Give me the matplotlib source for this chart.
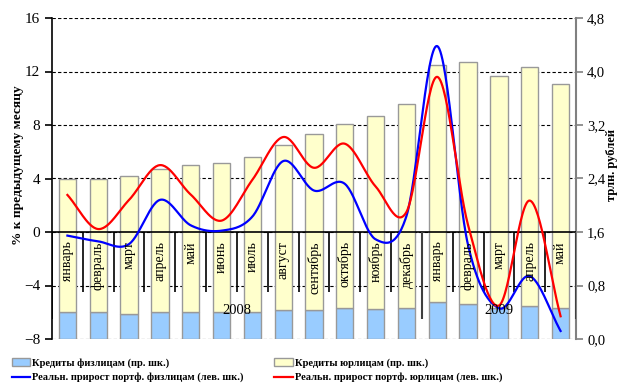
import numpy as np
import matplotlib.pyplot as plt
from matplotlib.patches import Patch
from matplotlib.lines import Line2D

plt.rcParams['font.family'] = ['Liberation Serif', 'DejaVu Serif']

months = ['январь', 'февраль', 'март', 'апрель', 'май', 'июнь', 'июль', 'август',
          'сентябрь', 'октябрь', 'ноябрь', 'декабрь',
          'январь', 'февраль', 'март', 'апрель', 'май']
years = ['2008', '2009']

# трлн. рублей (right axis)
loans_ind = [0.40, 0.40, 0.38, 0.40, 0.40, 0.40, 0.41, 0.43, 0.44, 0.46, 0.45, 0.47,
             0.55, 0.53, 0.47, 0.49, 0.46]
loans_total = [2.39, 2.39, 2.43, 2.54, 2.60, 2.63, 2.72, 2.90, 3.06, 3.21, 3.33, 3.51,
               4.10, 4.14, 3.93, 4.06, 3.82]
loans_corp = [t - i for t, i in zip(loans_total, loans_ind)]

# % к предыдущему месяцу (left axis)
growth_ind = [-0.27, -0.7, -0.9, 2.4, 0.5, 0.1, 1.15, 5.3, 3.1, 3.6, -0.55, 1.2,
              13.9, -1.0, -5.7, -3.3, -7.4]
growth_corp = [2.77, 0.22, 2.4, 5.0, 2.8, 0.85, 3.9, 7.1, 4.8, 6.6, 3.4, 1.5,
               11.6, 0.5, -5.5, 2.35, -6.3]


def smooth(y, n=30):
    # Catmull-Rom, like Excel's smoothed line
    y = np.asarray(y, float)
    p = np.concatenate([[2 * y[0] - y[1]], y, [2 * y[-1] - y[-2]]])
    xs, ys = [], []
    t = np.linspace(0, 1, n, endpoint=False)
    for i in range(1, len(p) - 2):
        p0, p1, p2, p3 = p[i - 1], p[i], p[i + 1], p[i + 2]
        seg = 0.5 * ((2 * p1) + (-p0 + p2) * t + (2 * p0 - 5 * p1 + 4 * p2 - p3) * t ** 2
                     + (-p0 + 3 * p1 - 3 * p2 + p3) * t ** 3)
        xs.extend(i - 1 + t)
        ys.extend(seg)
    xs.append(len(y) - 1)
    ys.append(y[-1])
    return np.array(xs), np.array(ys)


fig = plt.figure(figsize=(6.17, 3.87), dpi=100)
axb = fig.add_axes([52 / 617, 1 - 339 / 387, 524 / 617, 321 / 387])
axl = axb.twinx()
x = np.arange(len(months))

blue_fill = '#99CCFF'
yellow_fill = '#FFFFCC'
edge = '#999999'

# bars, right scale
axb.set_xlim(-0.5, len(months) - 0.5)
axb.set_ylim(0, 4.8)
rticks = np.arange(0, 4.81, 0.8)
axb.set_yticks(rticks)
axb.set_yticklabels([f'{v:.1f}'.replace('.', ',') for v in rticks])
axb.yaxis.tick_right()
axb.yaxis.set_label_position('right')
axb.grid(axis='y', color='black', linestyle=(0, (3, 2)), linewidth=0.8)
axb.set_axisbelow(True)
axb.bar(x, loans_ind, width=0.56, color=blue_fill, edgecolor=edge, linewidth=1)
axb.bar(x, loans_corp, bottom=loans_ind, width=0.56, color=yellow_fill, edgecolor=edge, linewidth=1)
axb.set_xticks([])
for s in ['top', 'bottom', 'left']:
    axb.spines[s].set_visible(False)
axb.spines['right'].set_color('#808080')
axb.spines['right'].set_linewidth(1.5)
axb.tick_params(axis='y', colors='#808080', labelcolor='black', labelsize=10.5,
                length=5, width=1.2, pad=3)
axb.set_ylabel('трлн. рублей', fontweight='bold', fontsize=9)
axb.yaxis.set_label_coords(1.058, 0.542)

# lines, left scale
axl.set_ylim(-8, 16)
axl.set_yticks(np.arange(-8, 17, 4))
axl.yaxis.tick_left()
axl.yaxis.set_label_position('left')
for s in ['top', 'bottom', 'right']:
    axl.spines[s].set_visible(False)
axl.spines['left'].set_linewidth(1.2)
axl.tick_params(axis='y', labelsize=11, length=5, width=1.2)
axl.set_ylabel('% к предыдущему месяцу', fontweight='bold', fontsize=9.6)
axl.yaxis.set_label_coords(-0.054, 0.542)

axl.axhline(0, color='black', linewidth=1.2)
axl.vlines(x[:-1] + 0.5, -4.5, 0, color='black', linewidth=1.2)
axl.vlines([11.5, len(months) - 0.5], -6.5, 0, color='#404040', linewidth=1.5)
axl.vlines([-0.5], -6.5, 0, color='black', linewidth=1.2)
for i, m in enumerate(months):
    axl.text(i, -0.7, m, rotation=90, ha='center', va='top', fontsize=10)
axl.text(5.5, -5.85, years[0], ha='center', va='center', fontsize=10.5)
axl.text(14, -5.85, years[1], ha='center', va='center', fontsize=10.5)

sx, sy = smooth(growth_ind)
axl.plot(sx, sy, color='#0000FF', linewidth=1.6)
sx, sy = smooth(growth_corp)
axl.plot(sx, sy, color='#FF0000', linewidth=1.6)
axl.set_xlim(-0.5, len(months) - 0.5)

handles = [Patch(facecolor=blue_fill, edgecolor=edge),
           Line2D([], [], color='#0000FF', linewidth=1.6),
           Patch(facecolor=yellow_fill, edgecolor=edge),
           Line2D([], [], color='#FF0000', linewidth=1.6)]
labels = ['Кредиты физлицам (пр. шк.)', 'Реальн. прирост портф. физлицам (лев. шк.)',
          'Кредиты юрлицам (пр. шк.)', 'Реальн. прирост портф. юрлицам (лев. шк.)']
fig.legend(handles, labels, ncol=2, loc='upper left', bbox_to_anchor=(0.012, 1 - 354 / 387),
           frameon=False, prop={'weight': 'bold', 'size': 7.6}, handlelength=1.75,
           handletextpad=0.2, columnspacing=2.9, labelspacing=0.45, borderaxespad=0)

fig.savefig('out.png', dpi=100)
